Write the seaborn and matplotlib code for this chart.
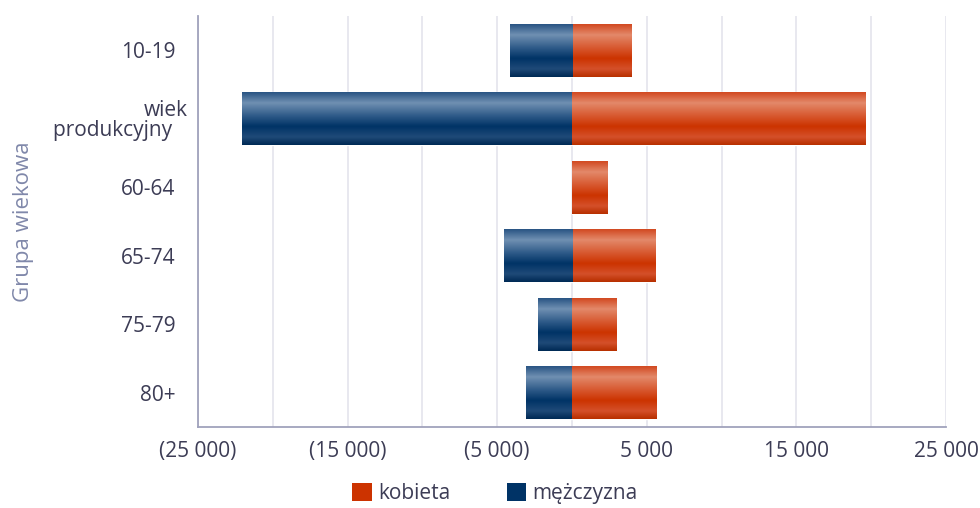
import numpy as np
import pandas as pd
import matplotlib
matplotlib.use("Agg")
import matplotlib.pyplot as plt
from matplotlib.colors import LinearSegmentedColormap
from matplotlib.patches import Patch
from matplotlib.ticker import FixedLocator, FuncFormatter
from matplotlib.transforms import ScaledTranslation
import seaborn as sns

# dane
grupy = ["10-19", "wiek\nprodukcyjny   ", "60-64", "65-74", "75-79", "80+"]
kobiety = [3950, 19600, 2350, 5550, 3000, 5680]
mezczyzni = [-4150, -22050, 0, -4550, -2250, -3070]
plcie = ["kobieta", "mężczyzna"]

df = pd.DataFrame({
    "grupa": grupy * 2,
    "plec": ["kobieta"] * len(grupy) + ["mężczyzna"] * len(grupy),
    "wartosc": kobiety + mezczyzni,
})

kolory = {"kobieta": "#cc3300", "mężczyzna": "#003366"}
gradienty = {
    "kobieta": ["#d24a22", "#e3896a", "#d7582f", "#cc3300", "#d4502a", "#b83000"],
    "mężczyzna": ["#2a5584", "#7090b2", "#2e5a88", "#003366", "#1f4a78", "#002a55"],
}
tekst = "#3c3c55"

sns.set_theme(style="white")
plt.rcParams["font.family"] = ["Open Sans", "DejaVu Sans"]

fig = plt.figure(figsize=(9.8, 5.08), dpi=100)
ax = fig.add_axes([0.202, 0.1594, 0.7633, 0.8091])

sns.barplot(data=df, x="wartosc", y="grupa", hue="plec", hue_order=plcie,
            palette=kolory, dodge=False, orient="h", width=0.77,
            legend=False, ax=ax, zorder=3)

ax.set_xlim(-25000, 25000)
ylim = ax.get_ylim()

# połysk na słupkach - gradient przycięty do prostokąta
for cont, plec in zip(ax.containers, plcie):
    cmap = LinearSegmentedColormap.from_list(
        plec, list(zip([0, 0.2, 0.45, 0.65, 0.85, 1.0], gradienty[plec])))
    for p in cont.patches:
        if p.get_width() == 0:
            continue
        x0, x1 = sorted([p.get_x(), p.get_x() + p.get_width()])
        y0, y1 = p.get_y(), p.get_y() + p.get_height()
        grad = np.linspace(0, 1, 100).reshape(-1, 1)
        im = ax.imshow(grad, cmap=cmap, aspect="auto", origin="upper",
                       extent=(x0, x1, y1, y0), zorder=4, interpolation="bilinear")
        im.set_clip_path(p)

ax.set_xlim(-25000, 25000)
ax.set_ylim(ylim)

ax.xaxis.set_major_locator(FixedLocator([-25000, -15000, -5000, 5000, 15000, 25000]))
ax.xaxis.set_minor_locator(FixedLocator([-20000, -10000, 0, 10000, 20000]))
ax.xaxis.set_major_formatter(FuncFormatter(
    lambda v, pos: (f"({abs(v):,.0f})" if v < 0 else f"{v:,.0f}").replace(",", " ")))
ax.grid(axis="x", which="both", color="#e4e4ec", linewidth=1.2, zorder=0)
ax.set_axisbelow(True)
ax.tick_params(axis="both", which="both", length=0, labelsize=15, colors=tekst)
ax.tick_params(axis="x", pad=10)
ax.tick_params(axis="y", pad=16)
for i, lab in enumerate(ax.get_yticklabels()):
    lab.set_multialignment("right")
    lab.set_linespacing(0.95)
    if "\n" in lab.get_text():
        lab.set_transform(lab.get_transform() + ScaledTranslation(9 / 72, 0, fig.dpi_scale_trans))

for s in ["top", "right"]:
    ax.spines[s].set_visible(False)
for s in ["left", "bottom"]:
    ax.spines[s].set_color("#a0a2bc")
    ax.spines[s].set_linewidth(1.3)

ax.set_xlabel("")
ax.set_ylabel("Grupa wiekowa", fontsize=16, color="#8088aa")
ax.yaxis.set_label_coords(-0.219, 0.5)

uchwyty = [Patch(facecolor=kolory[p], edgecolor="none", label=p) for p in plcie]
fig.legend(handles=uchwyty, loc="center", bbox_to_anchor=(0.505, 0.029),
           ncol=2, frameon=False, fontsize=15, labelcolor=tekst,
           handlelength=0.95, handleheight=0.95, handletextpad=0.3, columnspacing=2.7)

fig.savefig("out.png", dpi=100)
